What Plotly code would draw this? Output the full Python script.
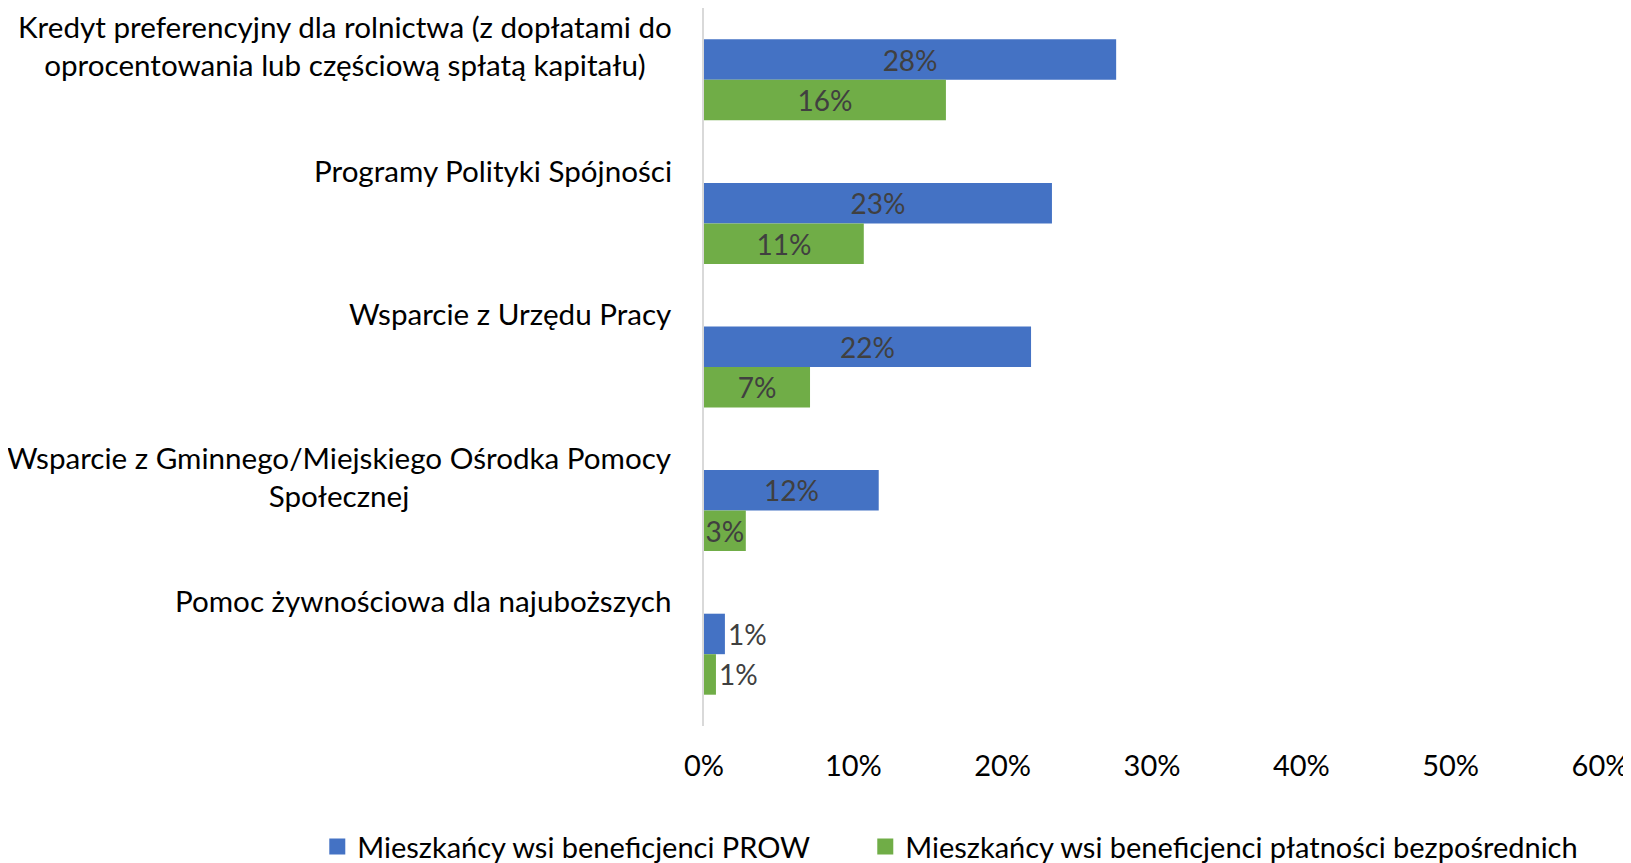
import plotly.graph_objects as go

categories = [
    "Kredyt preferencyjny dla rolnictwa (z dopłatami do<br>oprocentowania lub częściową spłatą kapitału)",
    "Programy Polityki Spójności",
    "Wsparcie z Urzędu Pracy",
    "Wsparcie z Gminnego/Miejskiego Ośrodka Pomocy<br>Społecznej",
    "Pomoc żywnościowa dla najuboższych",
]
series_names = [
    "Mieszkańcy wsi beneficjenci PROW",
    "Mieszkańcy wsi beneficjenci płatności bezpośrednich",
]
prow = [0.276, 0.233, 0.219, 0.117, 0.014]
direct = [0.162, 0.107, 0.071, 0.028, 0.008]
x_ticks = [0, 0.1, 0.2, 0.3, 0.4, 0.5, 0.6]

FONT = "Lato"
CAT_FS = 29.6
TICK_FS = 29
LEG_FS = 29
LBL_FS = 28
LABEL_COLOR = "#404040"

idx = list(range(len(categories)))

def positions(vals):
    return ["inside" if v >= 0.02 else "outside" for v in vals]

fig = go.Figure()
specs = [
    (series_names[0], prow, "#4472C4", "legend"),
    (series_names[1], direct, "#70AD47", "legend2"),
]
for name, vals, color, leg in specs:
    fig.add_trace(go.Bar(
        y=idx, x=vals, name=name, orientation="h", showlegend=False,
        marker=dict(color=color, line=dict(width=0)),
        texttemplate="%{x:.0%}",
        textposition=positions(vals),
        insidetextanchor="middle",
        constraintext="none",
        cliponaxis=False,
        textfont=dict(family=FONT, size=LBL_FS, color=LABEL_COLOR),
        insidetextfont=dict(family=FONT, size=LBL_FS, color=LABEL_COLOR),
        outsidetextfont=dict(family=FONT, size=LBL_FS, color=LABEL_COLOR),
    ))
    # legend entry with a larger square key
    fig.add_trace(go.Scatter(
        x=[None], y=[None], mode="markers", name=name, legend=leg, showlegend=True,
        marker=dict(symbol="square", size=16, color=color, line=dict(width=0)),
    ))

for i, c in enumerate(categories):
    fig.add_annotation(
        text=c, xref="paper", x=0, xshift=-30, xanchor="right", align="center",
        yref="y", y=i - 0.5, yanchor="top", yshift=1, showarrow=False,
        font=dict(family=FONT, size=CAT_FS, color="#000000"),
    )

# page has 8px body margin; plot area in figure px: x 696..1592, y 0..718
leg_common = dict(orientation="h", yanchor="middle", y=-0.168, xanchor="left",
                  font=dict(family=FONT, size=LEG_FS, color="#000000"),
                  bgcolor="rgba(0,0,0,0)", borderwidth=0, itemsizing="trace")
fig.update_layout(
    width=1623, height=855,
    margin=dict(l=696, r=31, t=0, b=137, autoexpand=False),
    paper_bgcolor="white", plot_bgcolor="white",
    barmode="group", bargap=0.436, bargroupgap=0,
    font=dict(family=FONT, size=TICK_FS, color="#000000"),
    showlegend=True,
    legend=dict(x=-0.4316, **leg_common),
    legend2=dict(x=0.180, **leg_common),
    xaxis=dict(range=[0, 0.6], tickvals=x_ticks, tickformat=".0%", showgrid=False,
               zeroline=False, showline=False, ticks="", ticklabelstandoff=20,
               tickfont=dict(family=FONT, size=TICK_FS, color="#000000")),
    yaxis=dict(range=[len(categories) - 0.5, -0.5], showticklabels=False, showgrid=False,
               zeroline=False, showline=True, linecolor="#d9d9d9", linewidth=2, ticks=""),
)

fig.write_html("out.html")
